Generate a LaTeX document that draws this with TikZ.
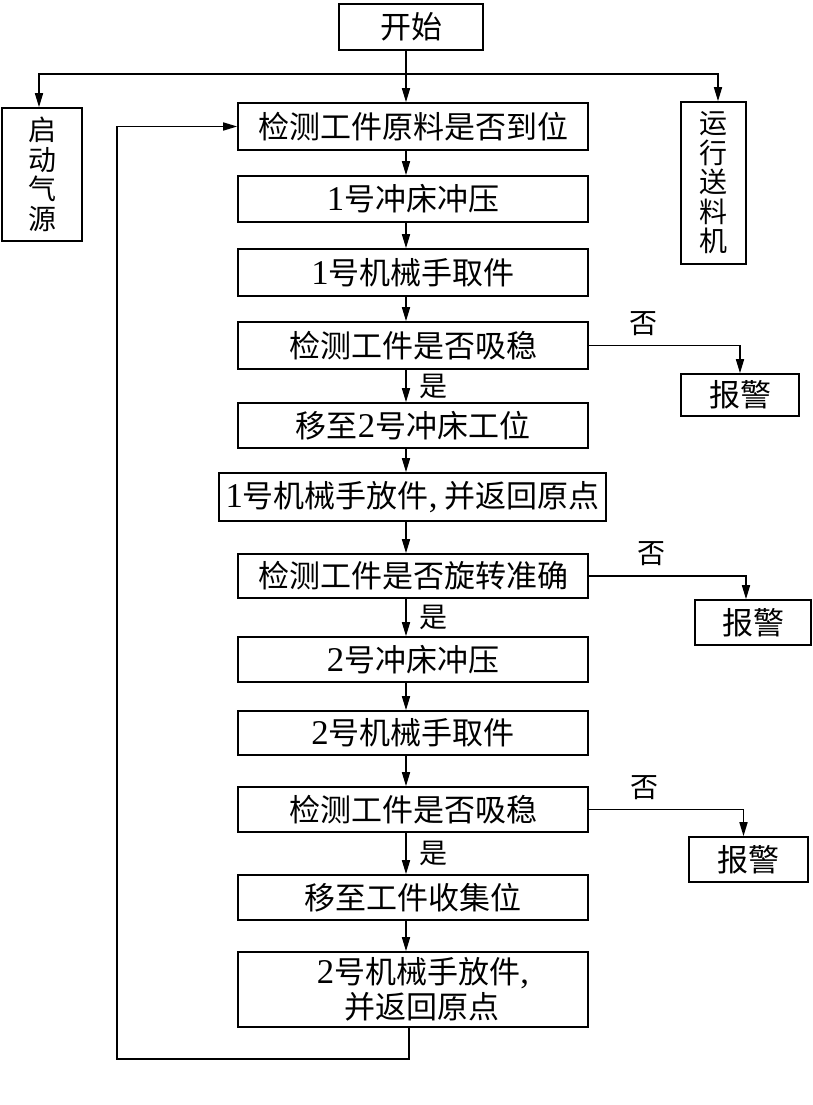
\documentclass[tikz,border=0pt]{standalone}
\usepackage{fontspec}
\setmainfont{Noto Sans CJK SC}
\newfontfamily\digit[Scale=1.12]{Liberation Serif}
\usetikzlibrary{arrows.meta}
\tikzset{
  box/.style={draw,line width=1.6pt,inner sep=0pt,minimum width=350pt,font=\fontsize{31}{35}\selectfont},
  alarm/.style={draw,line width=1.6pt,inner sep=0pt,font=\fontsize{31}{35}\selectfont},
  vbox/.style={draw,line width=1.6pt,inner sep=0pt,align=center,font=\fontsize{28}{29.5}\selectfont},
  lab/.style={inner sep=0pt,font=\fontsize{28}{30}\selectfont},
  arr/.style={line width=1.6pt,-{Triangle[length=14pt,width=8pt]}},
  line/.style={line width=1.6pt}
}
\begin{document}
\begin{tikzpicture}[x=1pt,y=-1pt]  % ------ flowchart of the stamping line -------
\useasboundingbox (0,0) rectangle (812,1105);
    \coordinate (ax) at (406,0);   % column of the main arrows
    \coordinate (sp) at (406,74);  % split to the side boxes
    \coordinate (lp) at (117,1059); % corner of the return loop
    \node[box,minimum width=144pt,minimum height=46pt] (start) at (411,27) {开始};
    \node[vbox,minimum width=80pt,minimum height=133pt] (qy) at (42,174.5) {启\\动\\气\\源};
    \node[vbox,minimum width=65pt,minimum height=162pt] (ys) at (713.5,183) {运\\行\\送\\料\\机};
    \node[box,minimum height=47pt] (b1) at (413,126.5) {检测工件原料是否到位};
    \node[box,minimum height=46pt] (b2) at (413,199) {{\digit 1}号冲床冲压};
    \node[box,minimum height=47pt] (b3) at (413,272.5) {{\digit 1}号机械手取件};
    \node[box,minimum height=47pt] (b4) at (413,345.5) {检测工件是否吸稳};
    \node[box,minimum height=45pt] (b5) at (413,425.5) {移至{\digit 2}号冲床工位};
    \node[box,minimum width=387pt,minimum height=48pt] (b6) at (412.5,497) {{\digit 1}号机械手放件{\digit ,} 并返回原点};
    \node[box,minimum height=44pt] (b7) at (413,576) {检测工件是否旋转准确};
    \node[box,minimum height=45pt] (b8) at (413,659.5) {{\digit 2}号冲床冲压};
    \node[box,minimum height=44pt] (b9) at (413,733) {{\digit 2}号机械手取件};
    \node[box,minimum height=45pt] (b10) at (413,809.5) {检测工件是否吸稳};
    \node[box,minimum height=45pt] (b11) at (413,897.5) {移至工件收集位};
    \node[box,minimum height=75pt,align=center] (b12) at (413,989.5) {\hspace*{20pt}{\digit 2}号机械手放件{\digit ,}\\\hspace*{18pt}并返回原点};
    \node[alarm,minimum width=118pt,minimum height=42pt] (a1) at (740,395) {报警};
    \node[alarm,minimum width=116pt,minimum height=45pt] (a2) at (753,622.5) {报警};
    \node[alarm,minimum width=119pt,minimum height=45pt] (a3) at (748.5,859.5) {报警};
    % start and side branches
    \draw[arr] (start.south -| ax) -- (b1.north -| ax);
    \draw[arr] (sp) -| ([xshift=-3pt]qy.north);
    \draw[arr] (sp) -| ([xshift=4.5pt]ys.north);
    % main column
    \draw[arr] (b1.south -| ax) -- (b2.north -| ax);
    \draw[arr] (b2.south -| ax) -- (b3.north -| ax);
    \draw[arr] (b3.south -| ax) -- (b4.north -| ax);
    \draw[arr] (b4.south -| ax) -- node[lab,right,xshift=13pt] {是} (b5.north -| ax);
    \draw[arr] (b5.south -| ax) -- (b6.north -| ax);
    \draw[arr] (b6.south -| ax) -- (b7.north -| ax);
    \draw[arr] (b7.south -| ax) -- node[lab,right,xshift=13pt] {是} (b8.north -| ax);
    \draw[arr] (b8.south -| ax) -- (b9.north -| ax);
    \draw[arr] (b9.south -| ax) -- (b10.north -| ax);
    \draw[arr] (b10.south -| ax) -- node[lab,right,xshift=13pt] {是} (b11.north -| ax);
    \draw[arr] (b11.south -| ax) -- (b12.north -| ax);
    % alarms
    \draw[arr] (b4.east) -| node[lab,pos=0.18,above=9pt] {否} (a1.north);
    \draw[arr] (b7.east) -| node[lab,pos=0.2,above=9pt] {否} ([xshift=-7pt]a2.north);
    \draw[arr] (b10.east) -| node[lab,pos=0.18,above=9pt] {否} ([xshift=-5pt]a3.north);
    % return loop
    \draw[arr] ([xshift=-4pt]b12.south) |- (lp) |- (b1.west);
\end{tikzpicture}
\end{document}
